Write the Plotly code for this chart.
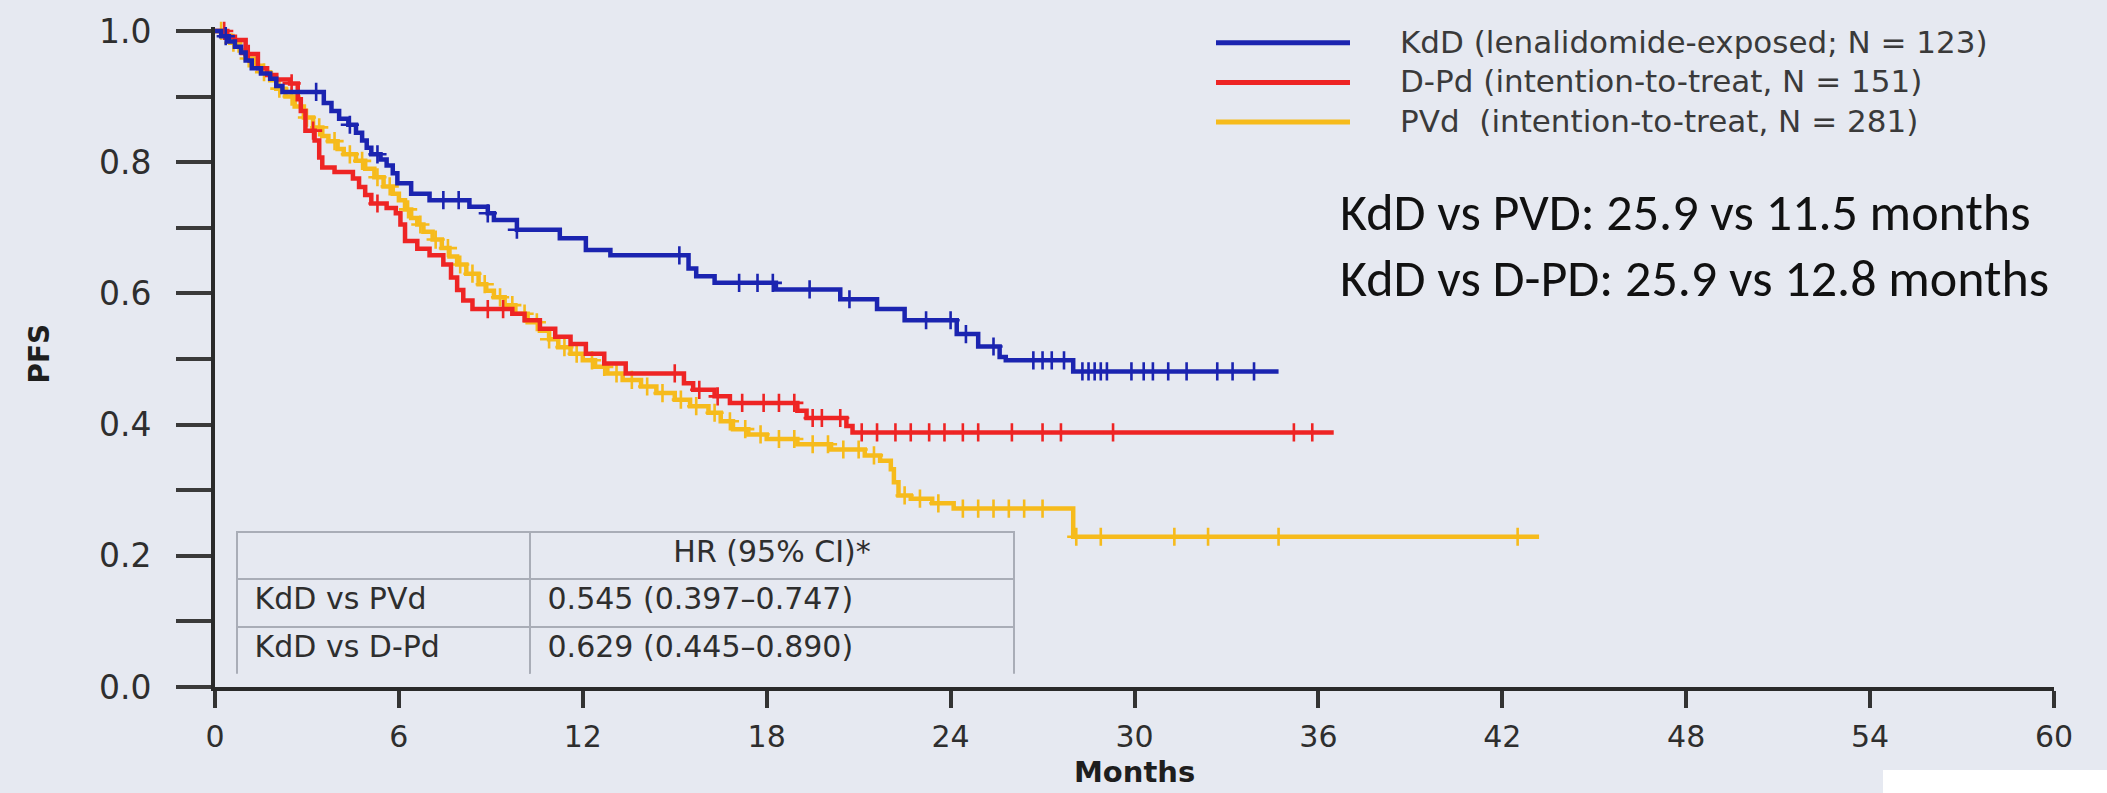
import numpy as np
import plotly.graph_objects as go

# ---------------- data ----------------
arm_labels = [
    "KdD (lenalidomide-exposed; N = 123)",
    "D-Pd (intention-to-treat, N = 151)",
    "PVd\u00a0 (intention-to-treat, N = 281)",
]
arm_colors = ["#1b24b0", "#ee2424", "#f6bb1c"]

# KdD: event times (months) and PFS after each step
kdd_t = [0, 0.2, 0.45, 0.65, 0.85, 1.0, 1.2, 1.5, 1.8, 2.0, 2.2, 3.55, 3.8, 4.05, 4.35,
         4.6, 4.8, 4.95, 5.1, 5.4, 5.6, 5.8, 5.95, 6.4, 7.0, 8.3, 8.9, 9.1, 9.85, 11.25,
         12.1, 12.9, 15.45, 15.7, 16.3, 18.3, 20.4, 21.6, 22.5, 24.2, 24.9, 25.6, 25.8, 28.0]
kdd_s = [1.0, 0.992, 0.984, 0.976, 0.967, 0.955, 0.943, 0.935, 0.927, 0.916, 0.907, 0.89,
         0.878, 0.866, 0.857, 0.845, 0.833, 0.822, 0.812, 0.804, 0.795, 0.783, 0.768, 0.752,
         0.742, 0.732, 0.722, 0.712, 0.697, 0.684, 0.666, 0.658, 0.638, 0.626, 0.616, 0.606,
         0.591, 0.576, 0.559, 0.538, 0.519, 0.503, 0.498, 0.481]
kdd_censor = [0.35, 3.3, 4.4, 5.3, 7.45, 7.95, 8.9, 9.85, 15.15, 17.1, 17.7, 18.2, 19.4,
              20.7, 23.2, 24.0, 24.5, 25.4, 26.7, 27.0, 27.3, 27.7, 28.3, 28.5, 28.7, 28.9,
              29.1, 29.9, 30.3, 30.6, 31.1, 31.7, 32.7, 33.2, 33.9]
kdd_end = 34.7

# D-Pd
dpd_t = [0, 0.4, 0.65, 1.0, 1.4, 1.7, 2.0, 2.45, 2.7, 2.8, 2.95, 3.25, 3.4, 3.5, 3.9, 4.5,
         4.7, 4.9, 5.1, 5.6, 5.9, 6.05, 6.2, 6.6, 7.0, 7.45, 7.7, 7.9, 8.1, 8.4, 9.7, 10.1,
         10.6, 11.1, 11.6, 12.1, 12.7, 13.4, 15.3, 15.6, 16.3, 16.8, 19.0, 19.3, 20.6, 20.8]
dpd_s = [1.0, 0.991, 0.986, 0.965, 0.943, 0.933, 0.926, 0.92, 0.896, 0.878, 0.848, 0.833,
         0.807, 0.792, 0.785, 0.775, 0.762, 0.75, 0.737, 0.73, 0.722, 0.705, 0.68, 0.668,
         0.658, 0.644, 0.624, 0.605, 0.589, 0.576, 0.569, 0.559, 0.546, 0.534, 0.523, 0.508,
         0.493, 0.478, 0.463, 0.453, 0.443, 0.433, 0.421, 0.41, 0.398, 0.388]
dpd_censor = [0.3, 1.1, 2.5, 3.2, 5.3, 8.9, 9.4, 15.0, 15.8, 16.4, 17.2, 17.9, 18.4, 18.9,
              19.5, 19.8, 20.4, 21.1, 21.6, 22.2, 22.7, 23.3, 23.8, 24.4, 24.9, 26.0, 27.0,
              27.6, 29.3, 35.2, 35.8]
dpd_end = 36.5

# PVd
pvd_t = [0, 0.3, 0.5, 0.8, 1.0, 1.3, 1.5, 1.8, 2.0, 2.3, 2.6, 2.9, 3.2, 3.5, 3.7, 4.0, 4.2,
         4.6, 4.9, 5.2, 5.5, 5.8, 6.0, 6.2, 6.4, 6.6, 6.8, 7.1, 7.4, 7.65, 7.9, 8.2, 8.6,
         8.85, 9.1, 9.45, 9.8, 10.2, 10.6, 10.9, 11.2, 11.6, 12.0, 12.4, 12.8, 13.3, 13.9,
         14.4, 15.0, 15.5, 16.1, 16.5, 16.9, 17.4, 18.0, 19.0, 20.1, 21.2, 21.7, 22.05,
         22.15, 22.3, 22.7, 23.4, 24.1, 28.0]
pvd_s = [1.0, 0.993, 0.982, 0.97, 0.958, 0.947, 0.937, 0.925, 0.912, 0.9, 0.885, 0.868,
         0.853, 0.84, 0.832, 0.82, 0.812, 0.802, 0.79, 0.777, 0.763, 0.752, 0.742, 0.728,
         0.715, 0.705, 0.694, 0.682, 0.669, 0.656, 0.644, 0.63, 0.614, 0.604, 0.594, 0.582,
         0.569, 0.556, 0.543, 0.53, 0.518, 0.508, 0.498, 0.488, 0.478, 0.468, 0.458, 0.448,
         0.438, 0.428, 0.418, 0.405, 0.393, 0.385, 0.378, 0.37, 0.362, 0.353, 0.345, 0.332,
         0.312, 0.292, 0.287, 0.28, 0.272, 0.229]
pvd_censor = [0.2, 0.6, 1.1, 1.6, 2.1, 2.5, 3.0, 3.4, 3.9, 4.4, 4.8, 5.3, 5.7, 6.3, 6.7,
              7.2, 7.6, 8.0, 8.4, 8.8, 9.3, 9.7, 10.1, 10.5, 10.9, 11.4, 11.8, 12.3, 12.7,
              13.1, 13.6, 14.1, 14.6, 15.2, 15.7, 16.3, 16.8, 17.3, 17.8, 18.4, 18.9, 19.5,
              20.0, 20.5, 21.0, 21.5, 22.5, 23.0, 23.6, 24.4, 24.9, 25.4, 25.9, 26.4, 27.0,
              28.1, 28.9, 31.3, 32.4, 34.7, 42.5]
pvd_end = 43.2

month_ticks = list(range(0, 61, 6))
pfs_ticks = [round(0.1 * i, 1) for i in range(11)]
pfs_ticktext = [f"{v:.1f}" if i % 2 == 0 else "" for i, v in enumerate(pfs_ticks)]

hr_comparisons = ["KdD vs PVd", "KdD vs D-Pd"]
hr_values = ["0.545 (0.397\u20130.747)", "0.629 (0.445\u20130.890)"]
hr_header = ["", "HR (95% CI)*"]

median_notes = [
    "KdD vs PVD: 25.9 vs 11.5 months",
    "KdD vs D-PD: 25.9 vs 12.8 months",
]

# ---------------- figure geometry ----------------
W, H = 2107, 793
ML, MR, MT, MB = 215, 53, 20, 106
PW, PH = W - ML - MR, H - MT - MB
Y_TOP = 1.006
BG = "#e6e9f1"
TXT = "#2e2e2e"


def px_x(px):
    return (px - ML) / PW


def px_y(py):
    return (H - MB - py) / PH


def step_at(t_ev, s_ev, t):
    idx = np.searchsorted(np.asarray(t_ev), np.asarray(t), side="right") - 1
    return np.asarray(s_ev)[idx]


arms = [
    (pvd_t, pvd_s, pvd_censor, pvd_end, 2),
    (dpd_t, dpd_s, dpd_censor, dpd_end, 1),
    (kdd_t, kdd_s, kdd_censor, kdd_end, 0),
]

fig = go.Figure()
for t_ev, s_ev, cens, t_end, k in arms:
    col = arm_colors[k]
    fig.add_trace(go.Scatter(
        x=list(t_ev) + [t_end], y=list(s_ev) + [s_ev[-1]],
        mode="lines", line=dict(color=col, width=4.5, shape="hv"),
        name=arm_labels[k], showlegend=False, hoverinfo="skip",
    ))
    fig.add_trace(go.Scatter(
        x=cens, y=step_at(t_ev, s_ev, cens), mode="markers",
        marker=dict(symbol="cross-thin", size=13, color=col,
                    line=dict(color=col, width=2.6)),
        showlegend=False, hoverinfo="skip", cliponaxis=False,
    ))

# hazard-ratio table
fig.add_trace(go.Table(
    domain=dict(x=[px_x(237), px_x(1014)], y=[px_y(674), px_y(530)]),
    columnwidth=[293, 484],
    header=dict(values=hr_header, height=47, align=["left", "center"],
                fill=dict(color=BG), line=dict(color="#a9adb7", width=2),
                font=dict(family="DejaVu Sans", size=30, color=TXT)),
    cells=dict(values=[["\u00a0" + c for c in hr_comparisons],
                       ["\u00a0" + v for v in hr_values]],
               height=48, align="left",
               fill=dict(color=BG), line=dict(color="#a9adb7", width=2),
               font=dict(family="DejaVu Sans", size=30, color=TXT)),
))

shapes = []
annotations = []
legend_rows = [35, 75, 115]
for k, row in enumerate(legend_rows):
    shapes.append(dict(type="line", xref="paper", yref="paper",
                       x0=px_x(1216), x1=px_x(1350), y0=px_y(row + 1), y1=px_y(row + 1),
                       line=dict(color=arm_colors[k], width=5)))
    annotations.append(dict(xref="paper", yref="paper", x=px_x(1398), y=px_y(row),
                            xanchor="left", yanchor="middle", showarrow=False,
                            text=arm_labels[k],
                            font=dict(family="DejaVu Sans", size=31, color="#3a3a3a")))

for txt, row in zip(median_notes, [207, 274]):
    annotations.append(dict(xref="paper", yref="paper", x=px_x(1338), y=px_y(row),
                            xanchor="left", yanchor="middle", showarrow=False, text=txt,
                            font=dict(family="Carlito, Lato", size=52, color="#111111")))

annotations.append(dict(xref="paper", yref="paper", x=0.5, y=px_y(773),
                        xanchor="center", yanchor="middle", showarrow=False,
                        text="<b>Months</b>",
                        font=dict(family="DejaVu Sans", size=29, color="#1e1e1e")))
annotations.append(dict(xref="paper", yref="paper", x=px_x(40), y=px_y(350),
                        xanchor="center", yanchor="middle", showarrow=False,
                        text="<b>PFS</b>", textangle=-90,
                        font=dict(family="DejaVu Sans", size=28, color="#1e1e1e")))

# small white patch at the lower right corner
shapes.append(dict(type="rect", xref="paper", yref="paper",
                   x0=px_x(1883), x1=px_x(W + 5), y0=px_y(H + 5), y1=px_y(771),
                   fillcolor="#ffffff", line=dict(width=0), layer="above"))

fig.update_layout(
    width=W, height=H,
    margin=dict(l=ML, r=MR, t=MT, b=MB, pad=0),
    paper_bgcolor=BG, plot_bgcolor=BG,
    showlegend=False,
    shapes=shapes, annotations=annotations,
    xaxis=dict(range=[0, 60], tickvals=month_ticks, ticks="outside", ticklen=17,
               tickwidth=4, tickcolor="#333333", showline=True, linewidth=4,
               linecolor="#2a2a2a", showgrid=False, zeroline=False,
               ticklabelstandoff=3,
               tickfont=dict(family="DejaVu Sans", size=30, color=TXT)),
    yaxis=dict(range=[0, Y_TOP], tickvals=pfs_ticks, ticktext=pfs_ticktext,
               ticks="outside", ticklen=35, tickwidth=4, tickcolor="#3a3a3a",
               showline=True, linewidth=4, linecolor="#2a2a2a", showgrid=False,
               zeroline=False, ticklabelstandoff=18,
               tickfont=dict(family="DejaVu Sans", size=33, color=TXT)),
)

fig.write_html("out.html")
